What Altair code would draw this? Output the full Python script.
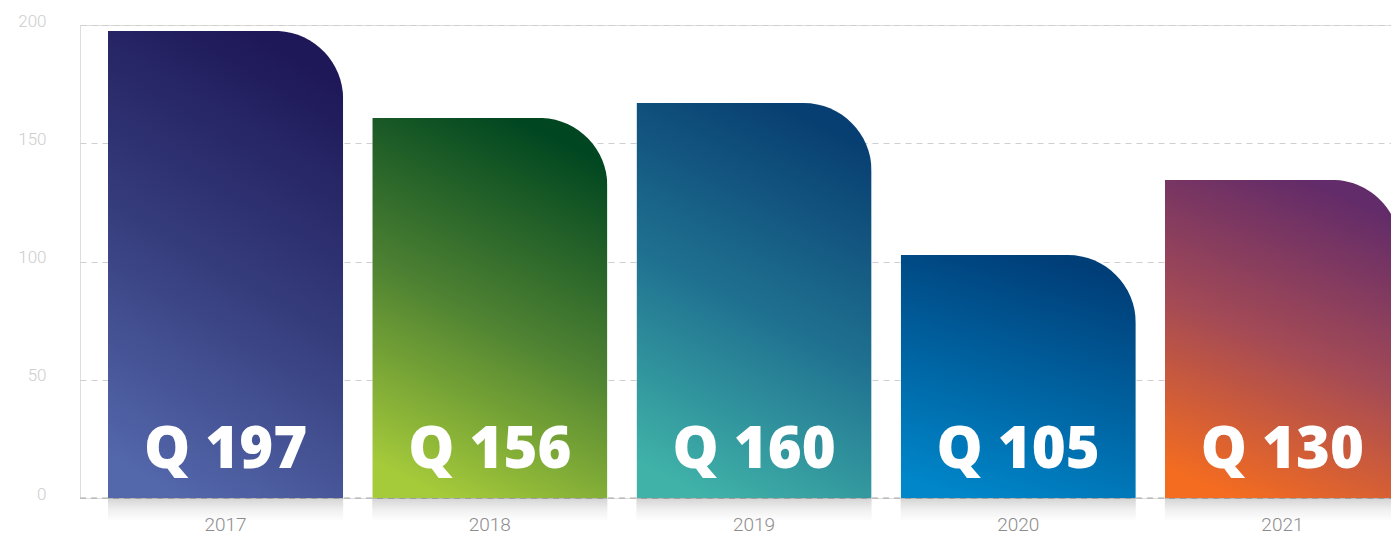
import altair as alt
import pandas as pd

years = ["2017", "2018", "2019", "2020", "2021"]
values = [197.5, 160.7, 167.0, 102.7, 134.5]
labels = ["Q 197", "Q 156", "Q 160", "Q 105", "Q 130"]
shadow_depth = [-10, -10, -10, -10, -10]

# gradient colours per bar: (light bottom-left, mid, dark top-right)
bar_colors = {
    "2017": ["#5367ab", "#353c7c", "#1e1858"],
    "2018": ["#a6cb3a", "#4c8032", "#004620"],
    "2019": ["#40b2a8", "#1f7090", "#083f72"],
    "2020": ["#0086c9", "#0062a0", "#003e78"],
    "2021": ["#f46c20", "#a34a56", "#622b69"],
}

df = pd.DataFrame({"year": years, "value": values, "label": labels, "shadow": shadow_depth})

x_enc = alt.X(
    "year:N",
    sort=years,
    scale=alt.Scale(range=[0, 1348], paddingInner=0.11, paddingOuter=0.106),
    axis=alt.Axis(
        title=None, ticks=False, domain=False, grid=False, labelPadding=17,
        labelFontSize=19, labelColor="#8c8c8c", labelFont="Roboto",
        labelFontWeight=300, labelAngle=0,
    ),
)
y_scale = alt.Scale(domain=[0, 200], nice=False)
y_axis = alt.Axis(
    title=None, ticks=False, domain=False, values=[0, 50, 100, 150, 200],
    labelPadding=34, labelFontSize=17, labelColor="#cdcdcd",
    labelFont="Roboto", labelFontWeight=300,
    labelOffset=-4, grid=True, gridDash=[6, 5], gridColor="#cfcfcf", gridWidth=1,
)

base = alt.Chart(df)

zero_rule = base.mark_rule(strokeDash=[6, 5], color="#a8a8a8", strokeWidth=1).encode(
    y=alt.datum(0, scale=y_scale, axis=y_axis)
).transform_filter(alt.datum.year == "2017").encode(
    x=alt.value(0), x2=alt.value(1348)
)

shadow = base.mark_bar(
    fill=alt.LinearGradient(
        gradient="linear",
        stops=[alt.GradientStop(color="rgba(0,0,0,0.17)", offset=0),
               alt.GradientStop(color="rgba(0,0,0,0.06)", offset=0.5),
               alt.GradientStop(color="rgba(0,0,0,0)", offset=1)],
        x1=0, x2=0, y1=0, y2=1,
    )
).encode(
    x=x_enc,
    y=alt.Y("shadow:Q", scale=y_scale, axis=y_axis),
    y2=alt.datum(0),
)

bar_layers = []
for yr in years:
    c = bar_colors[yr]
    bar_layers.append(
        base.transform_filter(alt.datum.year == yr).mark_bar(
            cornerRadiusTopRight=68,
            fill=alt.LinearGradient(
                gradient="linear",
                stops=[alt.GradientStop(color=c[0], offset=0),
                       alt.GradientStop(color=c[1], offset=0.5),
                       alt.GradientStop(color=c[2], offset=1)],
                x1=0.3, y1=1, x2=0.6, y2=0,
            ),
        ).encode(
            x=x_enc,
            y=alt.Y("value:Q", scale=y_scale, axis=y_axis),
        )
    )

text = base.mark_text(
    dy=-30, baseline="alphabetic", align="center", fontSize=58,
    font="Open Sans", fontWeight=800, color="white",
).encode(
    x=x_enc,
    y=alt.datum(0),
    text="label:N",
)

chart = alt.layer(zero_rule, shadow, *bar_layers, text).properties(
    width=1311,
    height=473,
    padding={"left": 72, "top": 17, "right": 0, "bottom": 39},
    autosize=alt.AutoSizeParams(type="none"),
).configure_view(stroke=None).configure(background="white")

chart.save("out.html", embed_options={"renderer": "svg", "actions": False})
